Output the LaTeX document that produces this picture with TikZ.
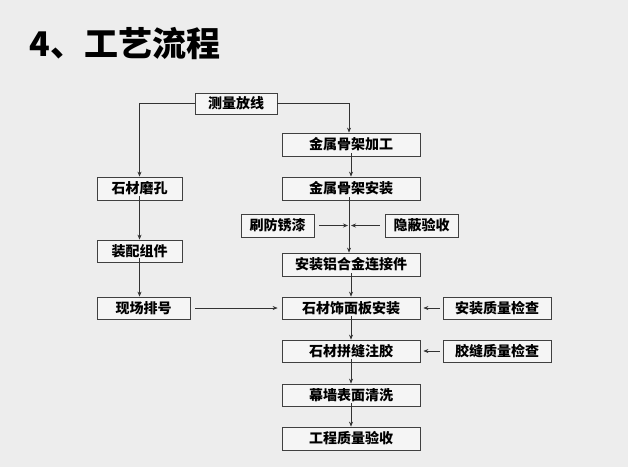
\documentclass[tikz,border=0pt]{standalone}
\usepackage{fontspec}
\newfontfamily\cjk{Noto Sans CJK SC}
\usetikzlibrary{arrows.meta}
\begin{document}
\begin{tikzpicture}[x=1pt,y=-1pt,
  box/.style={draw=black!75,line width=0.8pt,fill=white!92!gray,inner sep=0pt,font=\cjk\bfseries\fontsize{14}{14}\selectfont},
  arr/.style={-{Stealth[length=5pt,width=4pt]},line width=0.6pt,black!80}]
\fill[gray!14] (0,0) rectangle (628,467);
\useasboundingbox (0,0) rectangle (628,467);
\node[anchor=west,font=\cjk\bfseries\fontsize{34}{34}\selectfont] (title) at (26,44) {4、工艺流程};
\newcommand\bx[6]{\node[box,minimum width=#4-#2,minimum height=#5-#3] (#1) at ({(#2+#4)/2},{(#3+#5)/2}) {#6};}
\bx{a}{195}{93}{277}{114}{测量放线}
\bx{b}{282}{133}{420}{156}{金属骨架加工}
\bx{c}{282}{177}{420}{200}{金属骨架安装}
\bx{l1}{97}{177}{182}{200}{石材磨孔}
\bx{p}{241}{214}{314}{237}{刷防锈漆}
\bx{q}{385}{214}{458}{237}{隐蔽验收}
\bx{d}{282}{253}{420}{276}{安装铝合金连接件}
\bx{l2}{97}{240}{182}{262}{装配组件}
\bx{l3}{97}{297}{190}{319}{现场排号}
\bx{e}{282}{297}{420}{319}{石材饰面板安装}
\bx{r}{443}{297}{551}{319}{安装质量检查}
\bx{f}{282}{340}{420}{362}{石材拼缝注胶}
\bx{s}{443}{340}{551}{362}{胶缝质量检查}
\bx{g}{282}{384}{420}{406}{幕墙表面清洗}
\bx{h}{282}{427}{420}{450}{工程质量验收}
\coordinate (m) at (349,225.5);
\draw[arr] (a.west) -| (l1.north);
\draw[arr] (a.east) -| ([xshift=-2pt]b.north);
\draw[arr] ([yshift=3pt]b.south) -- (c.north);
\draw[arr] ([xshift=-2pt,yshift=3pt]c.south) -- ([xshift=-2pt]d.north);
\draw[arr] ([xshift=5pt]p.east) -- ([xshift=-1pt]m);
\draw[arr] ([xshift=-5pt]q.west) -- ([xshift=2pt]m);
\draw[arr] ([yshift=3pt]d.south) -- (e.north);
\draw[arr] ([yshift=4pt]l1.south) -- (l2.north);
\draw[arr] ([yshift=4pt]l2.south) -- (l2.south |- l3.north);
\draw[arr] ([xshift=5pt]l3.east) -- ([xshift=-4pt]e.west);
\draw[arr] ([xshift=-3pt]r.west) -- ([xshift=3pt]e.east);
\draw[arr] ([xshift=-3pt]s.west) -- ([xshift=3pt]f.east);
\draw[arr] ([yshift=3pt]e.south) -- (f.north);
\draw[arr] ([yshift=3pt]f.south) -- (g.north);
\draw[arr] ([yshift=3pt]g.south) -- (h.north);
\end{tikzpicture}
\end{document}
